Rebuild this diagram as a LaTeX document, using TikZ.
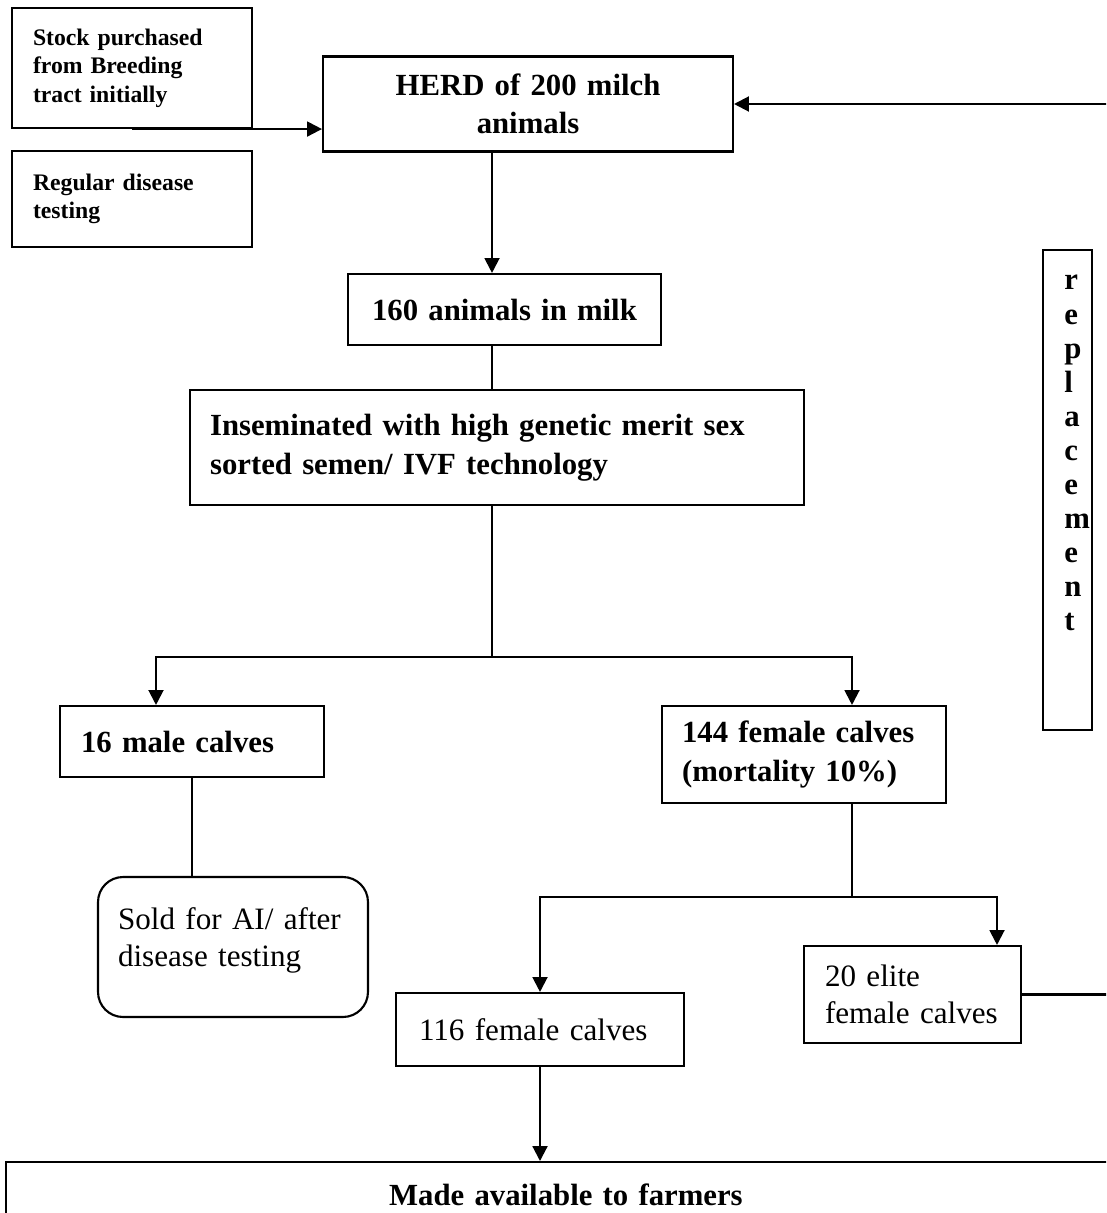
\documentclass[tikz,border=0pt]{standalone}
\usepackage{fontspec}
\setmainfont{Liberation Serif}
\usetikzlibrary{arrows.meta}

\tikzset{
	box/.style={draw, line width=1.2pt, align=left, inner ysep=0pt},
	roundbox/.style={box, rounded corners=0.5cm},
	arr/.style={line width=1.2pt, -{Triangle[length=8.5pt,width=8.5pt]}},
	lnk/.style={line width=1.2pt},
	bigb/.style={font=\fontsize{17.5}{22}\selectfont\bfseries},
	smallb/.style={font=\fontsize{13.5}{16.2}\selectfont\bfseries},
	plain/.style={font=\fontsize{17.7}{21.2}\selectfont},
}

\begin{document}
\begin{tikzpicture}[x=0.02cm, y=-0.02cm]
	\useasboundingbox (0,0) rectangle (1106,1213);
	\clip (0,0) rectangle (1106,1213);
	% columns of the connectors
	\coordinate (trunk) at (492,0);
	\coordinate (mcol) at (156,0);
	\coordinate (fcol) at (852,0);
	\coordinate (ecol) at (997,0);
	\coordinate (split) at (492,657);
	\coordinate (split2) at (852,897);
	\coordinate (rtop) at (1112,104);
	\coordinate (rbot) at (1112,994.5);

	\node[box, smallb, minimum width=4.8cm, minimum height=2.4cm, inner xsep=0.42cm, text width=3.96cm] (stock) at (132,68) {Stock purchased\\from Breeding\\tract initially};
	\node[box, smallb, minimum width=4.8cm, minimum height=1.92cm, inner xsep=0.42cm, text width=3.96cm] (test) at (132,199) {Regular disease\\testing};
	\node[box, bigb, align=center, minimum width=8.2cm, minimum height=1.9cm, inner xsep=0.33cm, text width=7.54cm] (herd) at (528,104) {HERD of 200 milch\\animals};
	\node[box, bigb, align=center, minimum width=6.26cm, minimum height=1.42cm, inner xsep=0.33cm, text width=5.6cm] (milk) at (504.5,309.5) {160 animals in milk};
	\node[box, bigb, minimum width=12.28cm, minimum height=2.3cm, inner xsep=0.4cm, text width=11.48cm] (insem) at (497,447.5) {Inseminated with high genetic merit sex\\sorted semen/ IVF technology};
	\node[box, bigb, minimum width=5.28cm, minimum height=1.42cm, inner xsep=0.42cm, text width=4.44cm] (male) at (192,741.5) {16 male calves};
	\node[box, bigb, minimum width=5.68cm, minimum height=1.94cm, inner xsep=0.4cm, text width=4.88cm] (female) at (804,754.5) {144 female calves\\(mortality 10\%)};
	\node[roundbox, plain, minimum width=5.4cm, minimum height=2.8cm, inner xsep=0.4cm, text width=4.6cm] (sold) at (233,947) {Sold for AI/ after\\disease testing\rule[-0.4cm]{0pt}{1pt}};
	\node[box, plain, minimum width=5.76cm, minimum height=1.46cm, inner xsep=0.46cm, text width=4.84cm] (fem116) at (540,1029.5) {116 female calves};
	\node[box, plain, minimum width=4.34cm, minimum height=1.94cm, inner xsep=0.42cm, text width=3.5cm] (elite) at (912.5,994.5) {20 elite\\female calves};
	\node[box, bigb, align=center, anchor=north west, minimum width=22.4cm, minimum height=1.3cm, inner xsep=0.4cm, text width=21.6cm] (farmers) at (5,1161) {Made available to farmers};
	\node[box, minimum width=0.98cm, minimum height=9.6cm] (repl) at (1067.5,490) {};
	\node[anchor=north west, inner sep=0pt, align=left, font=\fontsize{17.5}{19.4}\selectfont\bfseries] (repltxt) at (1064,275) {r\\e\\p\\l\\a\\c\\e\\m\\e\\n\\t};

	\draw[arr] (stock.south) -- (stock.south -| herd.west);
	\draw[arr] (rtop) -- (herd.east);
	\draw[arr] (herd.south -| trunk) -- (milk.north -| trunk);
	\draw[lnk] (milk.south -| trunk) -- (insem.north -| trunk);
	\draw[lnk] (insem.south -| trunk) -- (split);
	\draw[arr] (split) -| (male.north -| mcol);
	\draw[arr] (split) -| (female.north -| fcol);
	\draw[lnk] (male.south) -- (male.south |- sold.north);
	\draw[lnk] (female.south -| fcol) -- (split2);
	\draw[arr] (split2) -| (fem116.north);
	\draw[arr] (split2) -| (elite.north -| ecol);
	\draw[lnk] (elite.east) -- (rbot);
	\draw[arr] (fem116.south) -- (fem116.south |- farmers.north);
\end{tikzpicture}
\end{document}
